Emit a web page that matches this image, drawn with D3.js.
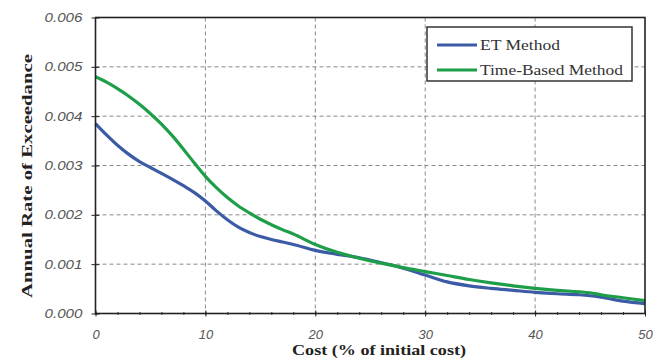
<!DOCTYPE html>
<html><head><meta charset="utf-8">
<script src="https://cdn.jsdelivr.net/npm/d3@7"></script>
<style>body{margin:0;background:#fff}</style>
</head><body>
<svg id="c" width="664" height="360"></svg>
<script>
const cost = [0,1,2,3,4,5,6,7,8,9,10,11,12,13,14,15,16,17,18,20,22,24,26,28,30,32,34,36,38,40,42,44,45,46,48,50];
const etMethod = [0.00385,0.00362,0.00341,0.00323,0.00308,0.00296,0.00284,0.00272,0.00259,0.00245,0.00228,0.00208,0.00190,0.00175,0.00164,0.00156,0.00150,0.00145,0.00140,0.00128,0.00120,0.00113,0.00103,0.00092,0.00078,0.00064,0.00056,0.00051,0.00047,0.00043,0.00040,0.00038,0.00036,0.00033,0.00025,0.00020];
const timeBased = [0.00480,0.00469,0.00456,0.00441,0.00424,0.00405,0.00384,0.00360,0.00333,0.00305,0.00278,0.00255,0.00235,0.00218,0.00204,0.00191,0.00180,0.00170,0.00161,0.00140,0.00124,0.00112,0.00102,0.00093,0.00085,0.00077,0.00069,0.00062,0.00056,0.00051,0.00047,0.00044,0.00042,0.00038,0.00032,0.00026];
const xTicks = [0,10,20,30,40,50];
const yTicks = [0,0.001,0.002,0.003,0.004,0.005,0.006];
const seriesNames = ["ET Method","Time-Based Method"];
const seriesColors = ["#3b5ba5","#1e9e48"];

const svg = d3.select("#c");
const L=95.5, R=645, T=17.5, B=313.5;
const x = d3.scaleLinear().domain([0,50]).range([L,R]);
const y = d3.scaleLinear().domain([0,0.006]).range([B,T]);

// grid
const g = svg.append("g");
g.selectAll(".gx").data(xTicks.slice(1,-1)).enter().append("line")
  .attr("x1",d=>x(d)).attr("x2",d=>x(d)).attr("y1",T).attr("y2",B)
  .attr("stroke","#8a8a8a").attr("stroke-width",1).attr("stroke-dasharray","4,3");
g.selectAll(".gy").data(yTicks.slice(1,-1)).enter().append("line")
  .attr("y1",d=>y(d)).attr("y2",d=>y(d)).attr("x1",L).attr("x2",R)
  .attr("stroke","#8a8a8a").attr("stroke-width",1).attr("stroke-dasharray","4,3");

// lines
const line = d3.line().x((d,i)=>x(cost[i])).y(d=>y(d)).curve(d3.curveMonotoneX);
[etMethod,timeBased].forEach((s,k)=>{
  svg.append("path").datum(s).attr("d",line).attr("fill","none")
    .attr("stroke",seriesColors[k]).attr("stroke-width",3.2).attr("stroke-linejoin","round");
});

// axes
const xAxis = d3.axisBottom(x).tickValues(xTicks).tickSize(0).tickFormat(d3.format("d"));
const xa = svg.append("g").attr("transform",`translate(0,${B})`).call(xAxis);
xa.select(".domain").remove();
xa.selectAll("text").attr("dy",null).attr("y",25).attr("font-family","Liberation Sans, Arial, sans-serif")
  .attr("font-style","italic").attr("font-size",13).attr("fill","#555");
const xMinor = d3.axisBottom(x).tickValues(d3.range(0,51,2)).tickSize(3).tickFormat("");
const xm = svg.append("g").attr("transform",`translate(0,${B-1.5})`).call(xMinor);
xm.select(".domain").remove();
xm.selectAll("line").attr("stroke","#333");
const xMajor = d3.axisBottom(x).tickValues(xTicks).tickSize(6).tickFormat("");
const xM = svg.append("g").attr("transform",`translate(0,${B-3})`).call(xMajor);
xM.select(".domain").remove();
xM.selectAll("line").attr("stroke","#222");

const yAxis = d3.axisLeft(y).tickValues(yTicks).tickSize(8).tickFormat(d3.format(".3f"));
const ya = svg.append("g").attr("transform",`translate(${L+4},0)`).call(yAxis);
ya.select(".domain").remove();
ya.selectAll("line").attr("stroke","#222");
ya.selectAll("text").attr("x",-17).attr("font-family","Liberation Sans, Arial, sans-serif")
  .attr("font-style","italic").attr("font-size",12.5).attr("fill","#555")
  .attr("textLength",38).attr("lengthAdjust","spacingAndGlyphs");

// frame
svg.append("rect").attr("x",L).attr("y",T).attr("width",R-L).attr("height",B-T)
  .attr("fill","none").attr("stroke","#222").attr("stroke-width",1.6);

// axis titles
svg.append("text").attr("x",379).attr("y",355).attr("text-anchor","middle")
  .attr("font-family","Liberation Serif, Times New Roman, serif").attr("font-weight","bold")
  .attr("font-size",15.5).attr("fill","#222").attr("textLength",174).attr("lengthAdjust","spacingAndGlyphs")
  .text("Cost (% of initial cost)");
svg.append("text").attr("transform",`translate(32,176) rotate(-90)`).attr("text-anchor","middle")
  .attr("font-family","Liberation Serif, Times New Roman, serif").attr("font-weight","bold")
  .attr("font-size",15.5).attr("fill","#222").attr("textLength",244).attr("lengthAdjust","spacingAndGlyphs")
  .text("Annual Rate of Exceedance");

// legend
const lg = svg.append("g");
lg.append("rect").attr("x",427).attr("y",27).attr("width",205).attr("height",54)
  .attr("fill","#fff").attr("stroke","#333").attr("stroke-width",1.5);
const legendLen = [80,143];
seriesNames.forEach((n,k)=>{
  const yy = 45 + k*25;
  lg.append("line").attr("x1",437).attr("x2",477).attr("y1",yy).attr("y2",yy)
    .attr("stroke",seriesColors[k]).attr("stroke-width",3.2);
  lg.append("text").attr("x",480).attr("y",yy+5).attr("font-family","Liberation Serif, Times New Roman, serif")
    .attr("font-size",15).attr("fill","#333").attr("textLength",legendLen[k]).attr("lengthAdjust","spacingAndGlyphs").text(n);
});
</script>
</body></html>
